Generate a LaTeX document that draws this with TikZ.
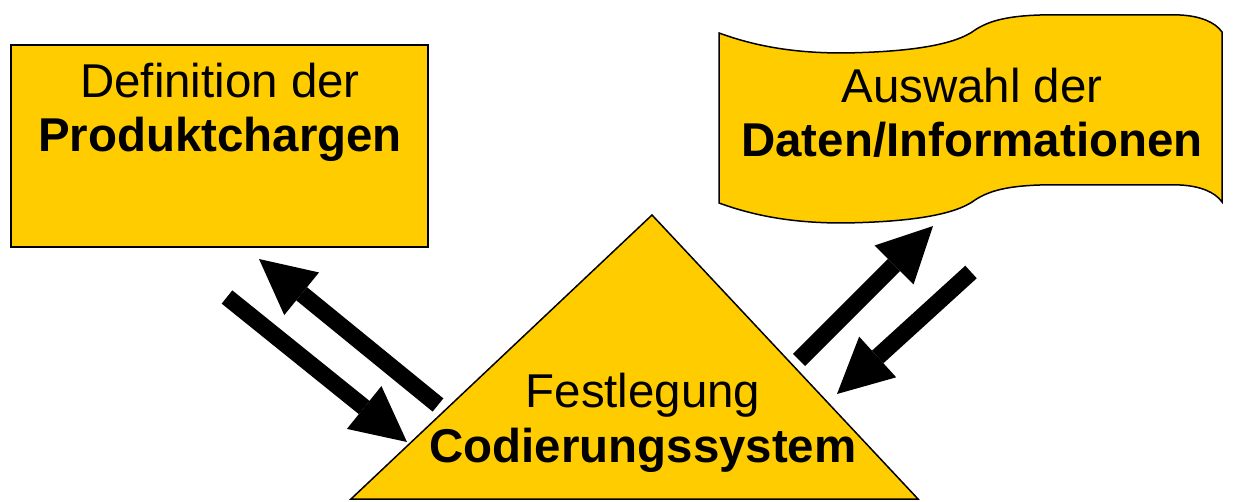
\documentclass[tikz,border=0pt]{standalone}
\usepackage{fontspec}
\setmainfont{Liberation Sans}
\usepackage{tikz}
\usetikzlibrary{arrows.meta}
\definecolor{gelb}{HTML}{FFCC00}
\tikzset{
  block/.style={draw=black, line width=0.3mm, fill=gelb, line join=miter},
  beschr/.style={font=\fontsize{27}{31.2}\selectfont, align=center, inner sep=0pt},
  pfeil/.style={line width=3.4mm, -{Triangle[length=11mm,width=11mm,line width=0pt]}},
}

\begin{document}
\begin{tikzpicture}[x=0.2mm, y=-0.2mm]
          \useasboundingbox (0,0) rectangle (1236,502);
          % Produktchargen
          \node[block, minimum width=83.4mm, minimum height=40.4mm, inner sep=0pt] (def) at (219.5,146) {};
          \node[beschr, anchor=base] (deftxt) at (220,152) {Definition der\\\textbf{Produktchargen}};
          % Daten / Informationen (Band)
          \draw[block] (719,33) .. controls (760,48) and (800,53) .. (843,53)
            .. controls (910,52) and (955,45) .. (975,30)
            .. controls (990,20) and (1010,16) .. (1040,15) -- (1180,15)
            .. controls (1200,16) and (1215,22) .. (1222,32) -- (1222,202)
            .. controls (1215,192) and (1200,186) .. (1180,185) -- (1040,185)
            .. controls (1010,186) and (990,190) .. (975,200)
            .. controls (955,215) and (910,222) .. (843,223)
            .. controls (800,223) and (760,218) .. (719,203) -- cycle;
          \node[beschr, anchor=base] (datentxt) at (972,157) {Auswahl der\\\textbf{Daten/Informationen}};
          % Codierungssystem
          \draw[block] (351,499) -- (652,215) -- (918,499) -- cycle;
          \node[beschr, anchor=base] (codetxt) at (643,462) {Festlegung\\\textbf{Codierungssystem}};
          % Pfeile
          \coordinate (l1a) at (227,297);
          \coordinate (l1b) at (407,442);
          \coordinate (l2a) at (438,405);
          \coordinate (l2b) at (259,259);
          \coordinate (r1a) at (799,360);
          \coordinate (r1b) at (933,226);
          \coordinate (r2a) at (971,272);
          \coordinate (r2b) at (837,394);
          \draw[pfeil] (l1a) -- (l1b);
          \draw[pfeil] (l2a) -- (l2b);
          \draw[pfeil] (r1a) -- (r1b);
          \draw[pfeil] (r2a) -- (r2b);
        \end{tikzpicture}
\end{document}
